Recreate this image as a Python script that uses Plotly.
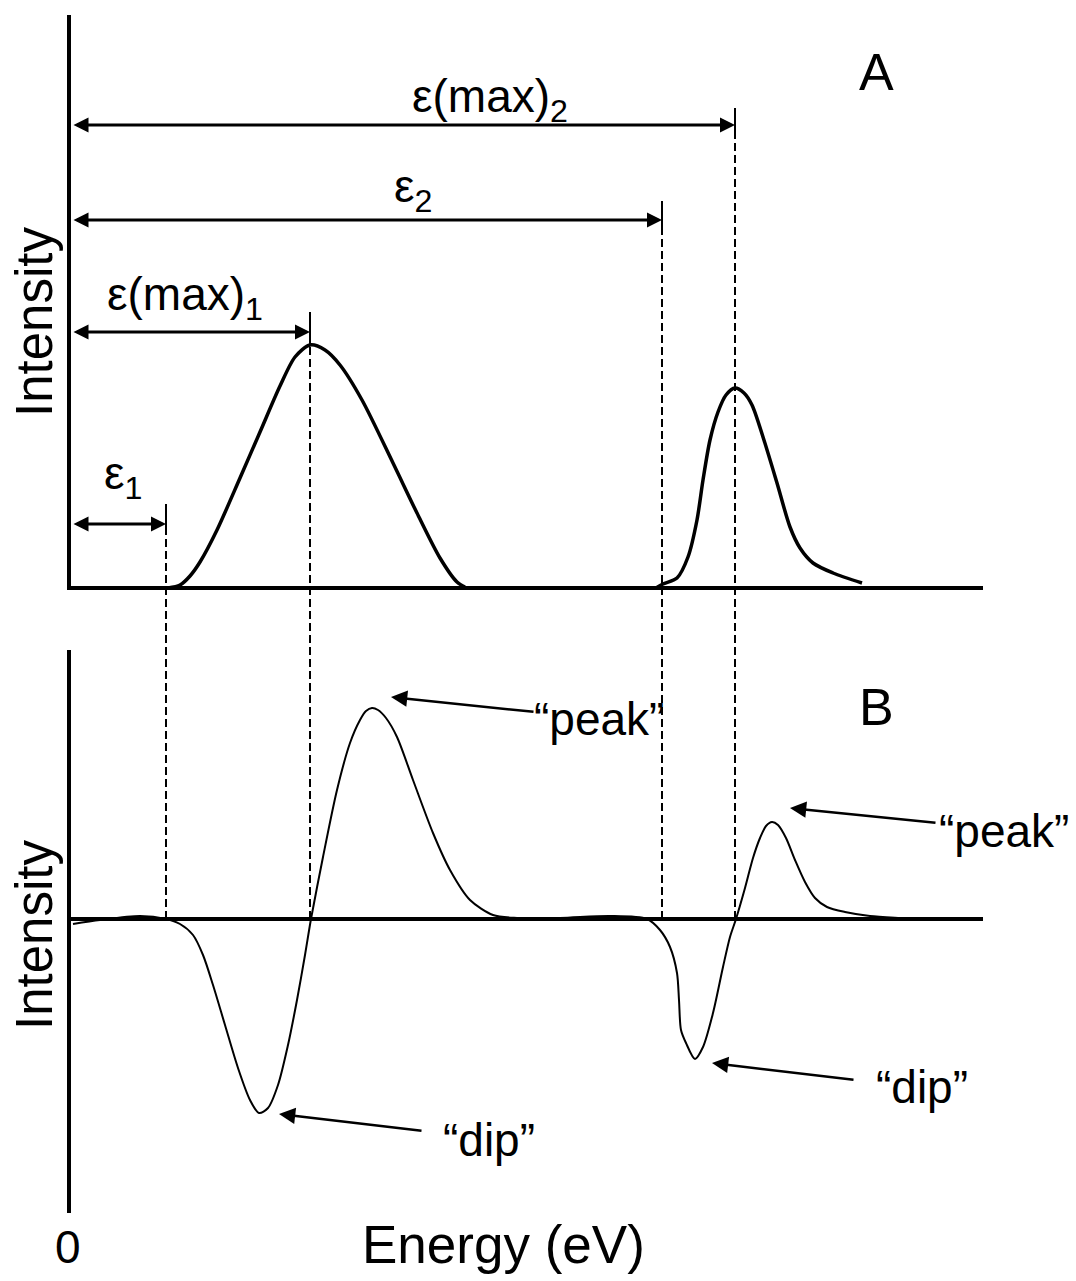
import plotly.graph_objects as go

W, H = 1076, 1281
FONT = "Liberation Sans, Arial, sans-serif"

# ---- data (energy in arbitrary units, intensity in arbitrary units) ----
# Panel A: two absorption-type peaks
a_peak1_energy = [0.99, 1.11, 1.21, 1.31, 1.48, 1.71, 1.91, 2.11, 2.26, 2.41,
                  2.56, 2.71, 2.93, 3.24, 3.48, 3.71, 3.88, 3.96]
a_peak1_intensity = [0.00, 0.03, 0.12, 0.26, 0.58, 1.10, 1.56, 2.02, 2.31, 2.43,
                     2.38, 2.23, 1.88, 1.25, 0.75, 0.30, 0.06, 0.01]

a_peak2_energy = [5.87, 5.94, 6.08, 6.19, 6.28, 6.34, 6.41, 6.49, 6.57, 6.66,
                  6.75, 6.83, 6.94, 7.08, 7.21, 7.31, 7.44, 7.64, 7.93]
a_peak2_intensity = [0.00, 0.04, 0.10, 0.31, 0.68, 1.08, 1.48, 1.76, 1.93, 2.00,
                     1.95, 1.83, 1.51, 1.05, 0.61, 0.40, 0.25, 0.15, 0.05]

# Panel B: derivative-like spectrum with dips and peaks
b_energy = [0.04, 0.31, 0.71, 0.97, 1.11, 1.24, 1.34, 1.44, 1.56, 1.69,
            1.81, 1.90, 1.99, 2.09, 2.19, 2.28, 2.36, 2.42, 2.54, 2.68,
            2.81, 2.91, 2.97, 3.03, 3.09, 3.17, 3.28, 3.44, 3.64, 3.81,
            4.01, 4.24, 4.48, 4.91, 5.41, 5.78, 5.91, 6.01, 6.08, 6.10,
            6.12, 6.17, 6.26, 6.34, 6.44, 6.54, 6.61, 6.67, 6.76, 6.84,
            6.91, 6.97, 7.03, 7.09, 7.17, 7.26, 7.36, 7.46, 7.58, 7.76,
            8.01, 8.31, 8.51]
b_intensity = [-0.05, -0.01, 0.03, 0.00, -0.05, -0.16, -0.36, -0.66, -1.06, -1.49,
               -1.81, -1.94, -1.89, -1.66, -1.26, -0.81, -0.36, 0.00, 0.62, 1.29,
               1.76, 1.99, 2.08, 2.11, 2.09, 2.01, 1.82, 1.39, 0.86, 0.49,
               0.19, 0.04, 0.01, 0.01, 0.03, 0.00, -0.11, -0.28, -0.54, -0.81,
               -1.11, -1.24, -1.40, -1.28, -0.94, -0.48, -0.18, 0.00, 0.31, 0.61,
               0.81, 0.93, 0.97, 0.94, 0.81, 0.59, 0.37, 0.21, 0.12, 0.07,
               0.03, 0.01, 0.00]

# Characteristic energies marked on the spectra
eps_labels = ["ε<sub>1</sub>", "ε(max)<sub>1</sub>", "ε<sub>2</sub>", "ε(max)<sub>2</sub>"]
eps_energy = [0.97, 2.41, 5.93, 6.66]

# Callout texts for the features of panel B
callout_labels = ["“peak”", "“peak”", "“dip”", "“dip”"]

# ---- axes geometry ----
X_DOMAIN = [71 / W, 983 / W]
X_RANGE = [0.02, 9.14]
A_DOMAIN = [1 - 590 / H, 1 - 15 / H]
A_RANGE = [-0.02, 5.73]
B_DOMAIN = [1 - 1213 / H, 1 - 650 / H]
B_RANGE = [-2.94, 2.69]


def to_paper(v, domain, rng):
    return domain[0] + (v - rng[0]) / (rng[1] - rng[0]) * (domain[1] - domain[0])


fig = go.Figure()

thick = dict(color="black", width=3.5, shape="spline", smoothing=0.8)
thin = dict(color="black", width=2, shape="spline", smoothing=0.8)

fig.add_trace(go.Scatter(x=a_peak1_energy, y=a_peak1_intensity, mode="lines",
                         line=thick, xaxis="x", yaxis="y", hoverinfo="skip"))
fig.add_trace(go.Scatter(x=a_peak2_energy, y=a_peak2_intensity, mode="lines",
                         line=thick, xaxis="x", yaxis="y", hoverinfo="skip"))
fig.add_trace(go.Scatter(x=b_energy, y=b_intensity, mode="lines",
                         line=thin, xaxis="x2", yaxis="y2", hoverinfo="skip"))

# ---- energy markers: double arrows, end ticks and dashed guides ----
arrow_level = [0.64, 2.56, 3.68, 4.63]
tick_top = [0.84, 2.76, 3.87, 4.80]
tick_bottom = [0.53, 2.43, 3.55, 4.51]
label_pos = [(0.54, 1.12), (1.16, 2.91), (3.44, 3.99), (4.21, 4.89)]

for lab, e, ya, tt, tb, (lx, ly) in zip(eps_labels, eps_energy, arrow_level,
                                        tick_top, tick_bottom, label_pos):
    fig.add_annotation(x=e, y=ya, ax=0.03, ay=ya, xref="x", yref="y",
                       axref="x", ayref="y", text="", showarrow=True,
                       arrowhead=2, startarrowhead=2, arrowside="end+start",
                       arrowwidth=3, arrowsize=1, startarrowsize=1,
                       arrowcolor="black", standoff=0, startstandoff=0)
    fig.add_shape(type="line", xref="x", yref="y", x0=e, x1=e, y0=tb, y1=tt,
                  line=dict(color="black", width=2))
    fig.add_shape(type="line", xref="x", yref="paper", x0=e, x1=e,
                  y0=to_paper(0, B_DOMAIN, B_RANGE),
                  y1=to_paper(tb, A_DOMAIN, A_RANGE),
                  line=dict(color="black", width=2, dash="8px,4px"))
    fig.add_annotation(x=lx, y=ly, xref="x", yref="y", text=lab, showarrow=False,
                       xanchor="center", yanchor="middle", borderpad=0,
                       font=dict(family=FONT, size=46, color="black"))

# ---- callouts in panel B ----
callout_tip = [(3.22, 2.22), (7.21, 1.11), (2.10, -1.95), (6.43, -1.44)]
callout_tail = [(4.66, 2.07), (8.68, 0.96), (3.54, -2.12), (7.86, -1.61)]
callout_text = [(4.64, 2.00), (8.69, 0.88), (3.73, -2.21), (8.06, -1.68)]

for lab, (tx, ty), (sx, sy), (px, py) in zip(callout_labels, callout_tip,
                                             callout_tail, callout_text):
    fig.add_annotation(x=tx, y=ty, ax=sx, ay=sy, xref="x2", yref="y2",
                       axref="x2", ayref="y2", text="", showarrow=True,
                       arrowhead=2, arrowwidth=2.5, arrowsize=1.3,
                       arrowcolor="black", standoff=0)
    fig.add_annotation(x=px, y=py, xref="x2", yref="y2", text=lab,
                       showarrow=False, xanchor="left", yanchor="middle",
                       borderpad=0, font=dict(family=FONT, size=46, color="black"))


# ---- panel letters and axis titles ----
def paper_text(txt, x_px, y_px, size, angle=0):
    fig.add_annotation(x=x_px / W, y=1 - y_px / H, xref="paper", yref="paper",
                       text=txt, showarrow=False, xanchor="center",
                       yanchor="middle", textangle=angle, borderpad=0,
                       font=dict(family=FONT, size=size, color="black"))


paper_text("A", 876, 72, 52)
paper_text("B", 876, 707, 52)
paper_text("Intensity", 34, 322, 51, -90)
paper_text("Intensity", 34, 935, 51, -90)
paper_text("Energy (eV)", 503, 1244, 53)
paper_text("0", 68, 1247, 46)

hidden_x = dict(domain=X_DOMAIN, range=X_RANGE, showline=False, showgrid=False,
                zeroline=False, showticklabels=False, ticks="", fixedrange=True)
y_common = dict(showline=True, linewidth=4, linecolor="black", showgrid=False,
                zeroline=True, zerolinewidth=4, zerolinecolor="black",
                showticklabels=False, ticks="", fixedrange=True)

fig.update_layout(
    width=W, height=H, margin=dict(l=0, r=0, t=0, b=0),
    paper_bgcolor="white", plot_bgcolor="white", showlegend=False,
    xaxis=dict(**hidden_x, anchor="y"),
    yaxis=dict(**y_common, domain=A_DOMAIN, range=A_RANGE, anchor="x"),
    xaxis2=dict(**hidden_x, anchor="y2"),
    yaxis2=dict(**y_common, domain=B_DOMAIN, range=B_RANGE, anchor="x2"),
)

fig.write_html("out.html", config={"displayModeBar": False})
